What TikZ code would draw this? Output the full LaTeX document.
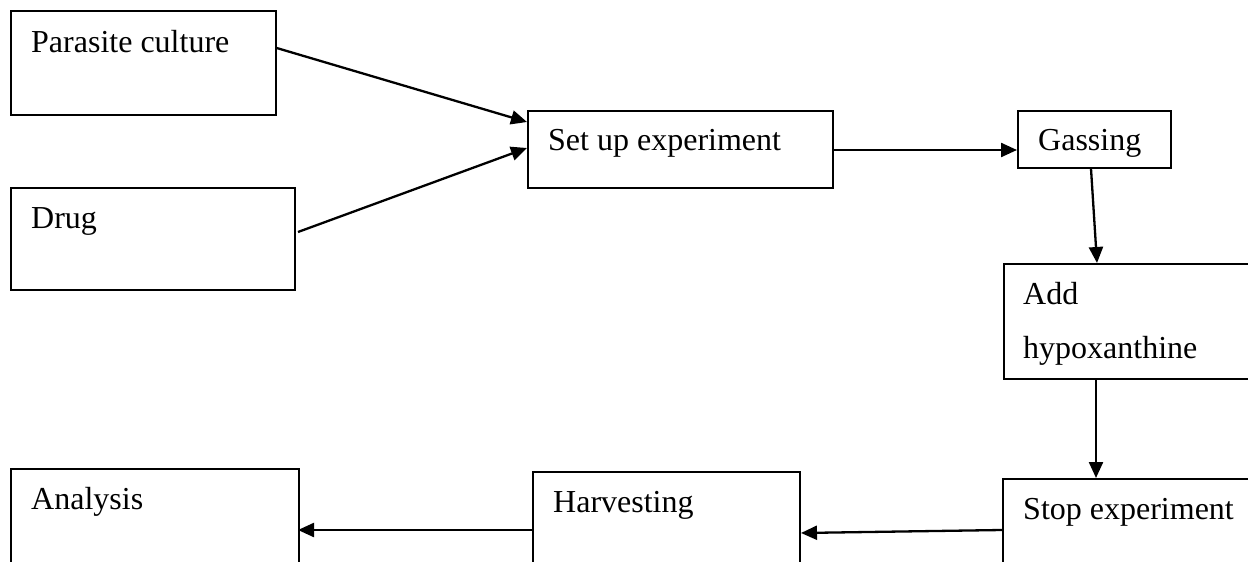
\documentclass[tikz,border=0pt]{standalone}
\usepackage{fontspec}
\setmainfont{Liberation Serif}
\usetikzlibrary{arrows.meta}
\begin{document}
\begin{tikzpicture}[x=1pt,y=-1pt,
  box/.style={draw, line width=1.7pt, inner sep=0pt, anchor=north west},
  lbl/.style={anchor=base west, inner sep=0pt, font=\fontsize{32}{38}\selectfont},
  arr/.style={line width=2.3pt, -{Triangle[length=16pt,width=14pt]}}]
\useasboundingbox (0,0) rectangle (1248,562);
\clip (0,0) rectangle (1248,562);
% boxes
\node[box, minimum width=265pt, minimum height=104pt] (pc) at (10,10) {};
\node[box, minimum width=284pt, minimum height=102pt] (drug) at (10,187) {};
\node[box, minimum width=305pt, minimum height=77pt] (setup) at (527,110) {};
\node[box, minimum width=153pt, minimum height=57pt] (gas) at (1017,110) {};
\node[box, minimum width=260pt, minimum height=115pt] (add) at (1003,263) {};
\node[box, minimum width=260pt, minimum height=110pt] (stop) at (1002,478) {};
\node[box, minimum width=267pt, minimum height=110pt] (harv) at (532,471) {};
\node[box, minimum width=288pt, minimum height=110pt] (ana) at (10,468) {};
% labels
\node[lbl] (tpc) at (31,52) {Parasite culture};
\node[lbl] (tdrug) at (31,228) {Drug};
\node[lbl] (tsetup) at (548,150) {Set up experiment};
\node[lbl] (tgas) at (1038,150) {Gassing};
\node[lbl] (tadd1) at (1023,304) {Add};
\node[lbl] (tadd2) at (1023,358) {hypoxanthine};
\node[lbl] (tstop) at (1023,519) {Stop experiment};
\node[lbl] (tana) at (31,509) {Analysis};
\node[lbl] (tharv) at (553,512) {Harvesting};
% connectors
\draw[arr] (pc.east |- 0,48) -- (setup.west |- 0,122);
\draw[arr] (298,232) -- (setup.west |- 0,148);
\draw[arr] (setup.east |- 0,150) -- (gas.west |- 0,150);
\draw[arr] (gas.south -| 1091,0) -- (add.north -| 1097,0);
\draw[arr] (add.south -| 1096,0) -- (stop.north -| 1096,0);
\draw[arr] (stop.west |- 0,530) -- (801,533);
\draw[arr] (harv.west |- 0,530) -- (298,530);
\end{tikzpicture}
\end{document}
